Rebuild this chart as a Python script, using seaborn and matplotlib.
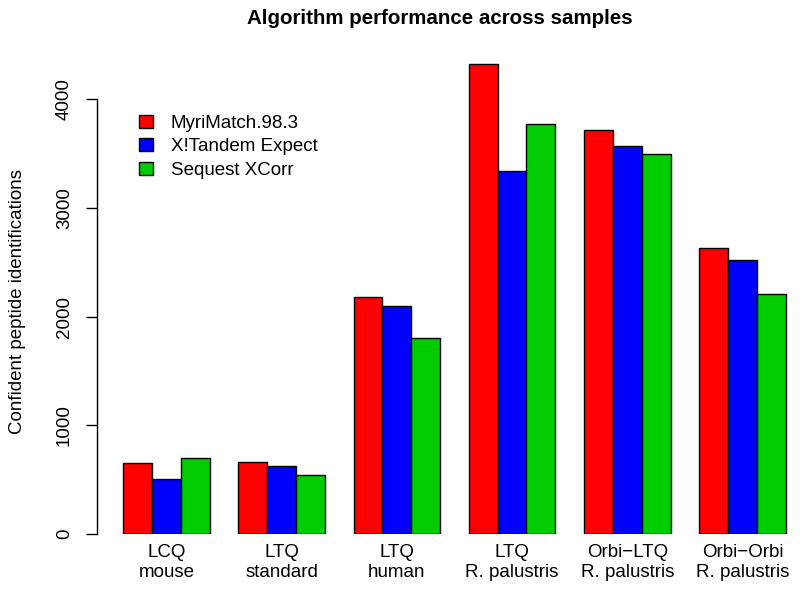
import matplotlib
matplotlib.use("Agg")
import matplotlib.pyplot as plt
import seaborn as sns
import pandas as pd

samples = ["LCQ\nmouse", "LTQ\nstandard", "LTQ\nhuman", "LTQ\nR. palustris",
           "Orbi\u2212LTQ\nR. palustris", "Orbi\u2212Orbi\nR. palustris"]
algorithms = ["MyriMatch.98.3", "X!Tandem Expect", "Sequest XCorr"]
myrimatch = [650, 662, 2179, 4322, 3714, 2632]
xtandem = [509, 628, 2098, 3341, 3570, 2520]
sequest = [696, 546, 1802, 3767, 3492, 2207]
colors = ["#FF0000", "#0000FF", "#00CD00"]
yticks = [0, 1000, 2000, 3000, 4000]

rows = []
for alg, vals in zip(algorithms, [myrimatch, xtandem, sequest]):
    for s, v in zip(samples, vals):
        rows.append({"sample": s, "algorithm": alg, "count": v})
df = pd.DataFrame(rows)

sns.set_style("white")
plt.rcParams['font.family'] = ['Liberation Sans', 'DejaVu Sans']
plt.rcParams['text.color'] = 'black'
plt.rcParams['axes.labelcolor'] = 'black'
plt.rcParams['xtick.color'] = 'black'
plt.rcParams['ytick.color'] = 'black'

FS = 13.5

fig = plt.figure(figsize=(8, 5.94), dpi=100)
ax = fig.add_axes([97/800, 60/594, 703/800, (534-45)/594])

sns.barplot(data=df, x="sample", y="count", hue="algorithm", order=samples,
            hue_order=algorithms, palette=colors, width=0.75, saturation=1,
            edgecolor="black", linewidth=1.0, errorbar=None, ax=ax)

ax.set_xlim(-0.603, 5.499)
ax.set_ylim(0, 4497)
ax.set_yticks(yticks)
ax.set_yticklabels([str(t) for t in yticks], rotation=90, va="center", fontsize=FS)
ax.tick_params(axis="y", length=7.7, width=1, pad=9.5, color="black", left=True)
ax.tick_params(axis="x", length=0, pad=7, labelsize=FS)
for lab in ax.get_xticklabels():
    lab.set_linespacing(1.28)
for side in ["top", "right", "bottom"]:
    ax.spines[side].set_visible(False)
ax.spines["left"].set_bounds(0, 4000)
ax.spines["left"].set_color("black")
ax.spines["left"].set_linewidth(1)
ax.set_xlabel("")
ax.set_ylabel("Confident peptide identifications", fontsize=FS)
ax.yaxis.set_label_coords((26-97)/703, (534-301)/489)

handles, labels = ax.get_legend_handles_labels()
leg = ax.legend(handles, labels, loc="upper left", frameon=False, fontsize=FS,
                bbox_to_anchor=(139/800, 1-115/594), bbox_transform=fig.transFigure,
                handlelength=0.75, handleheight=0.7, handletextpad=0.95,
                labelspacing=0.33, borderaxespad=0, borderpad=0)

fig.text(440/800, 1-18/594, "Algorithm performance across samples",
         ha="center", va="center", fontsize=14.8, fontweight="bold")

fig.savefig("out.png", dpi=100)
